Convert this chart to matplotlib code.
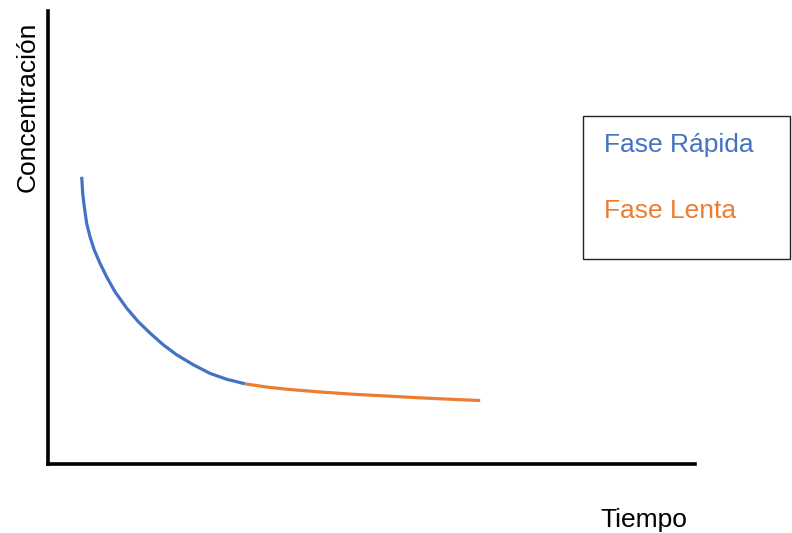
import matplotlib
matplotlib.use("Agg")
import matplotlib.pyplot as plt
from matplotlib.patches import Rectangle

plt.rcParams['font.family'] = ['Liberation Sans', 'DejaVu Sans']

# curva de concentracion (unidades arbitrarias, 0-100)
t_rapida = [5.21, 5.36, 5.61, 5.98, 6.49, 7.16, 8.04, 9.07, 10.36, 12.16,
            13.96, 15.77, 17.82, 19.89, 22.46, 25.04, 27.62, 30.45]
c_rapida = [63.4, 59.8, 56.8, 53.1, 50.2, 47.2, 44.3, 41.3, 38.0, 34.4,
            31.4, 28.9, 26.3, 24.1, 21.9, 20.0, 18.7, 17.7]

t_lenta = [30.45, 33.7, 36.9, 42.0, 47.1, 52.4, 57.5, 62.1, 66.8]
c_lenta = [17.7, 17.0, 16.5, 15.9, 15.4, 15.0, 14.6, 14.3, 14.0]

labels = ["Fase Rápida", "Fase Lenta"]
colors = ["#4472C4", "#ED7D31"]

fig = plt.figure(figsize=(7.92, 5.33), dpi=100)
ax = fig.add_axes([0.0606, 0.1295, 0.8169, 0.8499])

ax.plot(t_rapida, c_rapida, color=colors[0], lw=2.3, solid_capstyle='butt',
        solid_joinstyle='round')
ax.plot(t_lenta, c_lenta, color=colors[1], lw=2.3, solid_capstyle='butt',
        solid_joinstyle='round')

ax.set_xlim(0, 100)
ax.set_ylim(0, 100)
ax.set_xticks([])
ax.set_yticks([])
for s in ["top", "right"]:
    ax.spines[s].set_visible(False)
for s in ["left", "bottom"]:
    ax.spines[s].set_linewidth(2.6)
    ax.spines[s].set_color("black")

# ejes
fig.text(0.0442, 0.799, "Concentración", rotation=90, rotation_mode='anchor',
         ha='center', va='baseline', fontsize=19)
fig.text(0.7576, 0.0118, "Tiempo", ha='left', va='baseline', fontsize=19)

# leyenda manual
fig.patches.append(Rectangle((0.7361, 0.5141), 0.2614, 0.2683, transform=fig.transFigure,
                             fill=False, edgecolor="#222222", lw=1.0))
fig.text(0.7626, 0.7154, labels[0], color=colors[0], ha='left', va='baseline', fontsize=19)
fig.text(0.7626, 0.591, labels[1], color=colors[1], ha='left', va='baseline', fontsize=19)

fig.savefig("out.png", dpi=100)
